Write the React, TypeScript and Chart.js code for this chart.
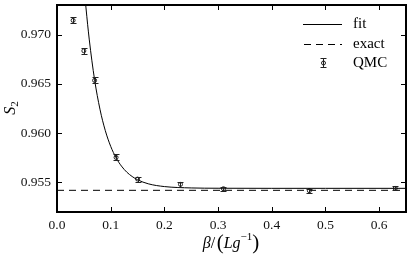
import { useEffect, useRef } from 'react';
import { Chart, registerables } from 'chart.js';
Chart.register(...registerables);

const xTicks = [0.0, 0.1, 0.2, 0.3, 0.4, 0.5, 0.6];
const yTicks = [0.955, 0.96, 0.965, 0.97];

const qmcBeta = [0.03, 0.05, 0.07, 0.11, 0.15, 0.23, 0.31, 0.47, 0.63];
const qmcS2 = [0.97144, 0.96835, 0.96535, 0.95754, 0.95534, 0.9548, 0.95436, 0.95416, 0.95439];
const qmcErr = [0.0003, 0.0003, 0.0003, 0.0003, 0.00025, 0.00025, 0.0002, 0.0002, 0.0002];

const fitBeta = [0.052, 0.054, 0.06, 0.07, 0.08, 0.09, 0.1, 0.11, 0.12, 0.13, 0.14, 0.15, 0.17, 0.2, 0.25, 0.3, 0.4, 0.5, 0.65];
const fitS2 = [0.97391, 0.9727, 0.96954, 0.96542, 0.96243, 0.96025, 0.95866, 0.9575, 0.95666, 0.95604, 0.9556, 0.95527, 0.95486, 0.95458, 0.95444, 0.95441, 0.9544, 0.9544, 0.9544];

const exactS2 = 0.9542;
const xRange = [0, 0.65];
const yRange = [0.952, 0.973];

const legendLabels = ['fit', 'exact', 'QMC'];

const SERIF = "'Liberation Serif', 'Times New Roman', 'DejaVu Serif', serif";

const decorPlugin = {
  id: 'decor',
  afterDatasetsDraw(chart: any) {
    const { ctx, scales } = chart;
    const x = scales.x, y = scales.y;
    ctx.save();
    ctx.strokeStyle = '#222';
    ctx.lineWidth = 1;
    qmcBeta.forEach((b, i) => {
      const px = Math.round(x.getPixelForValue(b)) + 0.5;
      const top = Math.round(y.getPixelForValue(qmcS2[i] + qmcErr[i])) + 0.5;
      const bot = Math.round(y.getPixelForValue(qmcS2[i] - qmcErr[i])) + 0.5;
      ctx.beginPath();
      ctx.moveTo(px, top); ctx.lineTo(px, bot);
      ctx.moveTo(px - 3, top); ctx.lineTo(px + 3, top);
      ctx.moveTo(px - 3, bot); ctx.lineTo(px + 3, bot);
      ctx.stroke();
    });
    ctx.restore();
  },
  afterDraw(chart: any) {
    const { ctx, chartArea: a, scales } = chart;
    const x = scales.x, y = scales.y;
    ctx.save();
    ctx.strokeStyle = '#000';
    ctx.lineWidth = 1;
    ctx.beginPath();
    xTicks.forEach((v) => {
      const px = Math.round(x.getPixelForValue(v)) + 0.5;
      ctx.moveTo(px, a.bottom); ctx.lineTo(px, a.bottom - 5);
      ctx.moveTo(px, a.top); ctx.lineTo(px, a.top + 5);
    });
    yTicks.forEach((v) => {
      const py = Math.round(y.getPixelForValue(v)) + 0.5;
      ctx.moveTo(a.left, py); ctx.lineTo(a.left + 5, py);
      ctx.moveTo(a.right, py); ctx.lineTo(a.right - 5, py);
    });
    ctx.stroke();
    ctx.lineWidth = 2;
    ctx.strokeRect(a.left, a.top, a.right - a.left, a.bottom - a.top);

    // legend
    ctx.fillStyle = '#000';
    ctx.font = '15px ' + SERIF;
    ctx.textBaseline = 'middle';
    const lx0 = 303, lx1 = 342, tx = 353;
    const rows = [24, 44, 63];
    ctx.lineWidth = 1;
    ctx.strokeStyle = '#000';
    ctx.beginPath(); ctx.moveTo(lx0, rows[0] + 0.5); ctx.lineTo(lx1, rows[0] + 0.5); ctx.stroke();
    ctx.setLineDash([7, 5]);
    ctx.beginPath(); ctx.moveTo(lx0 + 1, rows[1] + 0.5); ctx.lineTo(lx1, rows[1] + 0.5); ctx.stroke();
    ctx.setLineDash([]);
    const cx = Math.round((lx0 + lx1) / 2) + 0.5;
    ctx.strokeStyle = '#222';
    ctx.beginPath();
    ctx.moveTo(cx, rows[2] - 5); ctx.lineTo(cx, rows[2] + 5);
    ctx.moveTo(cx - 3, rows[2] - 4.5); ctx.lineTo(cx + 3, rows[2] - 4.5);
    ctx.moveTo(cx - 3, rows[2] + 4.5); ctx.lineTo(cx + 3, rows[2] + 4.5);
    ctx.stroke();
    ctx.beginPath(); ctx.arc(cx, rows[2], 2, 0, Math.PI * 2); ctx.stroke();
    legendLabels.forEach((t, i) => ctx.fillText(t, tx, rows[i]));

    // x title
    ctx.textBaseline = 'alphabetic';
    const base = 248;
    const parts: [string, string, number][] = [
      ['β', 'italic 16px ' + SERIF, 0],
      ['/', '16px ' + SERIF, 0],
      [' ', '6px ' + SERIF, 0],
      ['(', '21px ' + SERIF, 1],
      ['Lg', 'italic 16px ' + SERIF, 0],
      ['−1', '11px ' + SERIF, -8],
      [')', '21px ' + SERIF, 1],
    ];
    let total = 0;
    parts.forEach(([t, f]) => { ctx.font = f; total += ctx.measureText(t).width; });
    let cxp = 231 - total / 2;
    parts.forEach(([t, f, dy]) => {
      ctx.font = f;
      ctx.fillText(t, cxp, base + dy);
      cxp += ctx.measureText(t).width;
    });

    // y title
    ctx.translate(15, 108);
    ctx.rotate(-Math.PI / 2);
    ctx.font = 'italic 16px ' + SERIF;
    const sw = ctx.measureText('S').width;
    ctx.font = '11px ' + SERIF;
    const w2 = ctx.measureText('2').width;
    const sx = -(sw + w2) / 2;
    ctx.font = 'italic 16px ' + SERIF;
    ctx.fillText('S', sx, 0);
    ctx.font = '11px ' + SERIF;
    ctx.fillText('2', sx + sw, 3);
    ctx.restore();
  },
};

export default function App() {
  const ref = useRef<HTMLCanvasElement>(null);
  useEffect(() => {
    if (!ref.current) return;
    const chart = new Chart(ref.current, {
      type: 'scatter',
      data: {
        datasets: [
          {
            label: 'fit',
            data: fitBeta.map((b, i) => ({ x: b, y: fitS2[i] })),
            showLine: true,
            borderColor: '#000',
            borderWidth: 1,
            pointRadius: 0,
            cubicInterpolationMode: 'monotone',
          } as any,
          {
            label: 'exact',
            data: [{ x: xRange[0], y: exactS2 }, { x: xRange[1], y: exactS2 }],
            showLine: true,
            borderColor: '#000',
            borderWidth: 1,
            borderDash: [7, 5],
            pointRadius: 0,
          },
          {
            label: 'QMC',
            data: qmcBeta.map((b, i) => ({ x: b, y: qmcS2[i] })),
            pointRadius: 2,
            pointStyle: 'circle',
            borderColor: '#222',
            borderWidth: 1,
            backgroundColor: 'rgba(0,0,0,0)',
          },
        ],
      },
      options: {
        animation: false,
        responsive: false,
        layout: { padding: { top: 5, right: 9, left: 0, bottom: 0 } },
        plugins: { legend: { display: false }, tooltip: { enabled: false } },
        scales: {
          x: {
            type: 'linear',
            min: xRange[0],
            max: xRange[1],
            afterBuildTicks: (s: any) => { s.ticks = xTicks.map((v) => ({ value: v })); },
            afterFit: (s: any) => {
              s.height = 44;
              s.paddingLeft = 0; s.paddingRight = 0; s.paddingTop = 0; s.paddingBottom = 0;
            },
            grid: { display: false, drawTicks: false },
            border: { display: false },
            ticks: {
              autoSkip: false,
              maxRotation: 0,
              padding: 5,
              color: '#111',
              font: { family: SERIF, size: 13.5 },
              callback: (v: any) => Number(v).toFixed(1),
            },
          },
          y: {
            type: 'linear',
            min: yRange[0],
            max: yRange[1],
            afterBuildTicks: (s: any) => { s.ticks = yTicks.map((v) => ({ value: v })); },
            afterFit: (s: any) => {
              s.width = 57;
              s.paddingLeft = 0; s.paddingRight = 0; s.paddingTop = 0; s.paddingBottom = 0;
            },
            grid: { display: false, drawTicks: false },
            border: { display: false },
            ticks: {
              autoSkip: false,
              padding: 6,
              color: '#111',
              font: { family: SERIF, size: 13.5 },
              callback: (v: any) => Number(v).toFixed(3),
            },
          },
        },
      },
      plugins: [decorPlugin],
    });
    return () => chart.destroy();
  }, []);
  return (
    <div style={{ position: 'fixed', left: 0, top: 0, width: 415, height: 256, background: '#fff' }}>
      <canvas ref={ref} width={415} height={256} />
    </div>
  );
}
